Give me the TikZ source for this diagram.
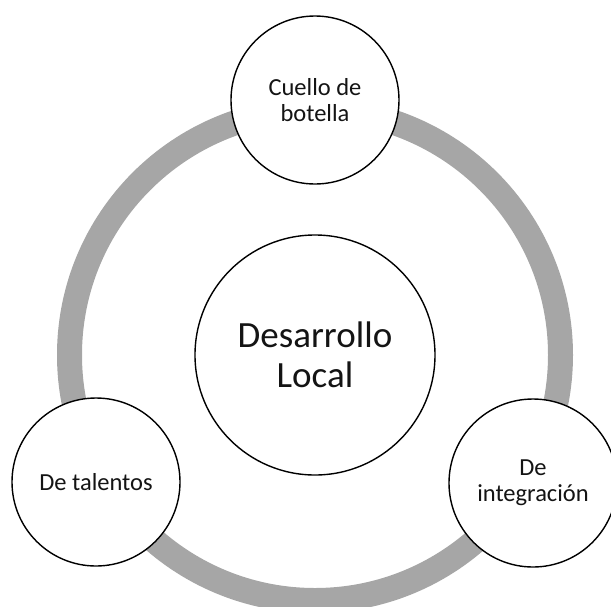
\documentclass[tikz,border=0pt]{standalone}
\usepackage{fontspec}
\setmainfont{Carlito}
\definecolor{ringgray}{RGB}{166,166,166}
\definecolor{textdark}{RGB}{20,20,20}
\tikzset{
    bubble/.style={circle, draw=black, line width=1.4pt, fill=white, minimum size=168pt, inner sep=0pt,
        align=center, text=textdark, font=\fontsize{24.5}{26}\selectfont},
    core/.style={bubble, minimum size=240pt, font=\fontsize{37}{40}\selectfont}
}

\begin{document}
\begin{tikzpicture}[x=1pt, y=-1pt]
        \useasboundingbox (0, 0) rectangle (611, 606);
        \draw[line width=25pt, ringgray] (315, 355) circle (245.5);

        \node[core] (centro) at (315, 355) {Desarrollo\\Local};
        \node[bubble] (cuello) at (315, 100) {Cuello de\\botella};
        \node[bubble] (talentos) at (96, 482) {De talentos};
        \node[bubble] (integracion) at (533, 483) {De\\integración};
    \end{tikzpicture}
\end{document}
